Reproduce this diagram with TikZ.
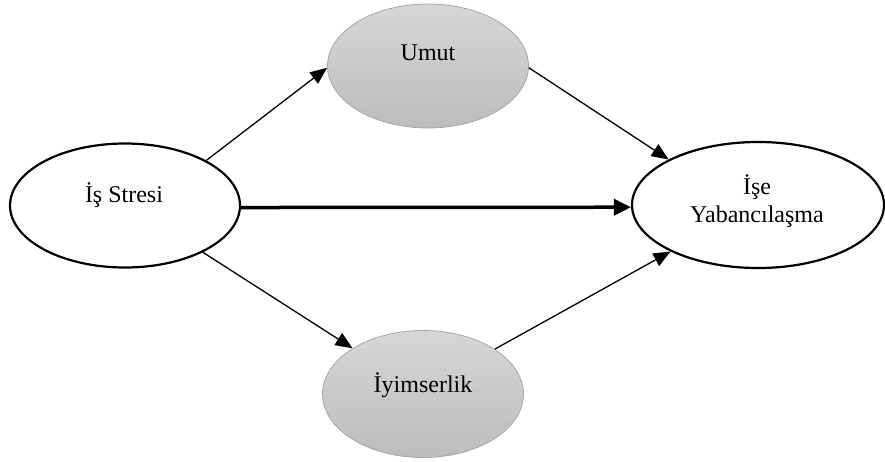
\documentclass[tikz,border=0pt]{standalone}
\usepackage{fontspec}
\setmainfont{Liberation Serif}
\usetikzlibrary{shapes.geometric,arrows.meta}
\begin{document}
\begin{tikzpicture}[x=1pt,y=-1pt,
  font=\fontsize{24}{28.5}\selectfont,
  whiteell/.style={ellipse,draw=black,line width=2.2pt,fill=white,inner sep=0pt},
  grayell/.style={ellipse,draw=black!35,line width=0.8pt,top color=black!16,bottom color=black!26,inner sep=0pt},
  conn/.style={line width=1.3pt,-{Triangle[length=17pt,width=14pt]}},
  thickconn/.style={line width=3.5pt,-{Triangle[length=17pt,width=16pt]}}]
\useasboundingbox (0,0) rectangle (885,461);
\node[whiteell,minimum width=230pt,minimum height=124pt] (s) at (125,205.5) {};
\node[grayell,minimum width=201pt,minimum height=124pt] (u) at (428,66) {};
\node[grayell,minimum width=201pt,minimum height=127pt] (i) at (423,394) {};
\node[whiteell,minimum width=252pt,minimum height=126pt] (y) at (758,205) {};
\node (ts) at (124,195) {İş Stresi};
\node (tu) at (428,53) {Umut};
\node (ti) at (423,385) {İyimserlik};
\node[align=center] (ty) at (757,201) {İşe\\Yabancılaşma};
\draw[conn] (s.29) -- (u.181);
\draw[conn] (u.-1) -- (y.153);
\draw[thickconn] (s.-1) -- (y.181);
\draw[conn] (s.-31) -- (i.147);
\draw[conn] (i.32) -- (y.208);
\end{tikzpicture}
\end{document}
